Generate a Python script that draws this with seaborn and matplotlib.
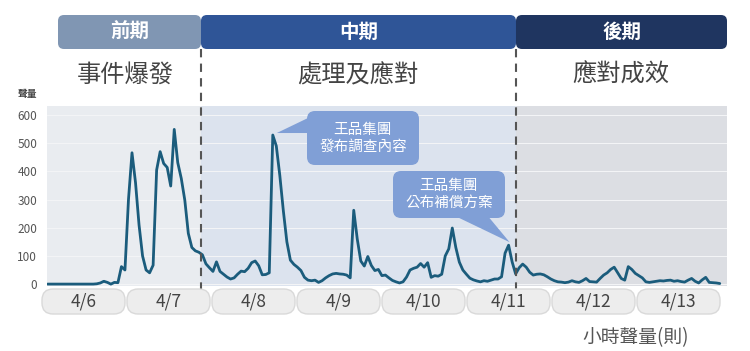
import pandas as pd
import matplotlib.pyplot as plt
import seaborn as sns
from matplotlib.patches import FancyBboxPatch, Polygon

# hourly volume, 4/6 00:00 -> 4/13 23:00
volume = [0, 0, 0, 0, 0, 0, 0, 0, 0, 0, 0, 0, 0, 0, 1,
          4, 10, 6, 0, 6, 5, 62, 50,
          300, 466, 360, 210, 100, 50, 40,
          67, 405, 470, 428, 414, 348, 549, 431, 375, 298, 180, 130,
          118, 113, 104, 72, 58, 45, 79, 45, 35, 25, 18, 22, 35, 46, 44, 56, 76, 82,
          65, 33, 34, 40, 529, 490, 385, 260, 150, 85,
          70, 60, 48, 24, 14, 12, 14, 6, 12, 22,
          30, 36, 38, 36, 35, 32, 22, 262, 160, 82,
          64, 98, 66, 48, 52, 30, 32, 22, 13, 8,
          4, 8, 25, 50, 56, 60, 73, 60, 76, 24,
          30, 28, 35, 100, 125, 199, 130, 78, 50, 35,
          21, 15, 11, 8, 12, 10, 14, 18, 18, 26,
          110, 138, 79, 36, 58, 71, 60, 42, 32, 35,
          36, 33, 26, 18, 12, 8, 7, 5, 7, 12,
          8, 6, 12, 20, 9, 8, 7, 20, 32, 40,
          52, 60, 40, 20, 14, 62, 52, 38, 30, 22,
          8, 6, 8, 10, 12, 11, 13, 14, 10, 12,
          9, 7, 14, 20, 10, 4, 15, 24, 6, 5, 4, 2]
hours = list(range(len(volume)))

day_labels = ['4/6', '4/7', '4/8', '4/9', '4/10', '4/11', '4/12', '4/13']
phase_names = ['前期', '中期', '後期']
phase_desc = ['事件爆發', '處理及應對', '應對成效']
phase_breaks = [43.6, 133.1]   # hour where the phase changes
callout_texts = ['王品集團\n發布調查內容', '王品集團\n公布補償方案']
callout_hours = [64, 131]
yticks = [0, 100, 200, 300, 400, 500, 600]

df = pd.DataFrame({'hour': hours, 'volume': volume})

sns.set_style('white')
plt.rcParams['font.family'] = ['Noto Sans CJK TC', 'DejaVu Sans']

W, H = 750, 351
fig = plt.figure(figsize=(W / 100, H / 100), dpi=100)
fig.patch.set_facecolor('white')
ax = fig.add_axes([47 / W, 1 - 285.5 / H, 680 / W, 179.5 / H])

# phase backgrounds
xmin, xmax = -0.15, 193.05
bounds = [xmin] + phase_breaks + [xmax]
bg_colors = ['#e9ecf0', '#dce3ee', '#dcdee3']
for i in range(3):
    ax.axvspan(bounds[i], bounds[i + 1], color=bg_colors[i], lw=0, zorder=0)

sns.lineplot(data=df, x='hour', y='volume', ax=ax, color='#1b5c7c', linewidth=2, zorder=3)

ax.set_xlim(xmin, xmax)
ax.set_ylim(-5, 632)
ax.set_yticks(yticks)
ax.set_xticks([])
ax.set_xlabel('')
ax.set_ylabel('')
ax.tick_params(axis='y', length=0, pad=7, labelsize=8.5, labelcolor='#555555')
ax.yaxis.grid(True, color='#f4f5f7', linewidth=0.7, zorder=1)
ax.set_axisbelow(True)
for s in ax.spines.values():
    s.set_visible(False)

# overlay in pixel coordinates for the layout pieces
ov = fig.add_axes([0, 0, 1, 1], zorder=5)
ov.set_xlim(0, W)
ov.set_ylim(H, 0)
ov.axis('off')
ov.patch.set_alpha(0)


def to_px(x, y):
    dx, dy = ax.transData.transform((x, y))
    return dx, H - dy


break_px = [to_px(b, 0)[0] for b in phase_breaks]

# header boxes
head_x = [58] + break_px + [727]
head_colors = ['#8096b3', '#2f5597', '#1f3560']
for i in range(3):
    x0, x1 = head_x[i], head_x[i + 1]
    ov.add_patch(FancyBboxPatch((x0, 15), x1 - x0, 34,
                                boxstyle='round,pad=0,rounding_size=6',
                                fc=head_colors[i], ec='none', zorder=2 + i))
    ov.text((x0 + x1) / 2, 32, phase_names[i], color='white', fontsize=14,
            fontweight='bold', ha='center', va='center', zorder=6)

desc_x = [125, 358, 621]
for i in range(3):
    ov.text(desc_x[i], 75, phase_desc[i], color='#444444', fontsize=17.5,
            ha='center', va='center')

# dashed phase dividers
for bx in break_px:
    ov.plot([bx, bx], [49, 294], color='#555555', lw=1.5, ls=(0, (4, 3)), zorder=1)

# day pills
for d, lab in enumerate(day_labels):
    x0 = 42 + 85 * d
    ov.add_patch(FancyBboxPatch((x0, 289), 83, 25,
                                boxstyle='round,pad=0,rounding_size=11',
                                fc='#ededed', ec='#d9d9d9', lw=1, zorder=3))
    ov.text(x0 + 41.5, 302, lab, color='#444444', fontsize=12.5,
            ha='center', va='center', zorder=4)

# callouts
call_color = '#809fd6'
boxes = [(307, 111, 112, 54), (393, 171, 112, 47)]
for i, (bx, by, bw, bh) in enumerate(boxes):
    h = callout_hours[i]
    tx, ty = to_px(h, volume[h])
    if i == 0:
        tip = [(tx + 4, ty - 2), (308, 118), (322, 133)]
    else:
        tip = [(tx + 1, ty - 3), (453, 215), (487, 215)]
    ov.add_patch(Polygon(tip, closed=True, fc=call_color, ec='none', zorder=7))
    ov.add_patch(FancyBboxPatch((bx, by), bw, bh,
                                boxstyle='round,pad=0,rounding_size=8',
                                fc=call_color, ec='none', zorder=7))
    ov.text(bx + bw / 2, by + bh / 2, callout_texts[i], color='white',
            fontsize=10.5, ha='center', va='center', linespacing=1.25, zorder=8)

ov.text(27, 94, '聲量', color='#444444', fontsize=7, fontweight='bold',
        ha='center', va='center')
ov.text(636, 338, '小時聲量(則)', color='#555555', fontsize=13.5,
        ha='center', va='center')

plt.savefig('out.png', dpi=100)
